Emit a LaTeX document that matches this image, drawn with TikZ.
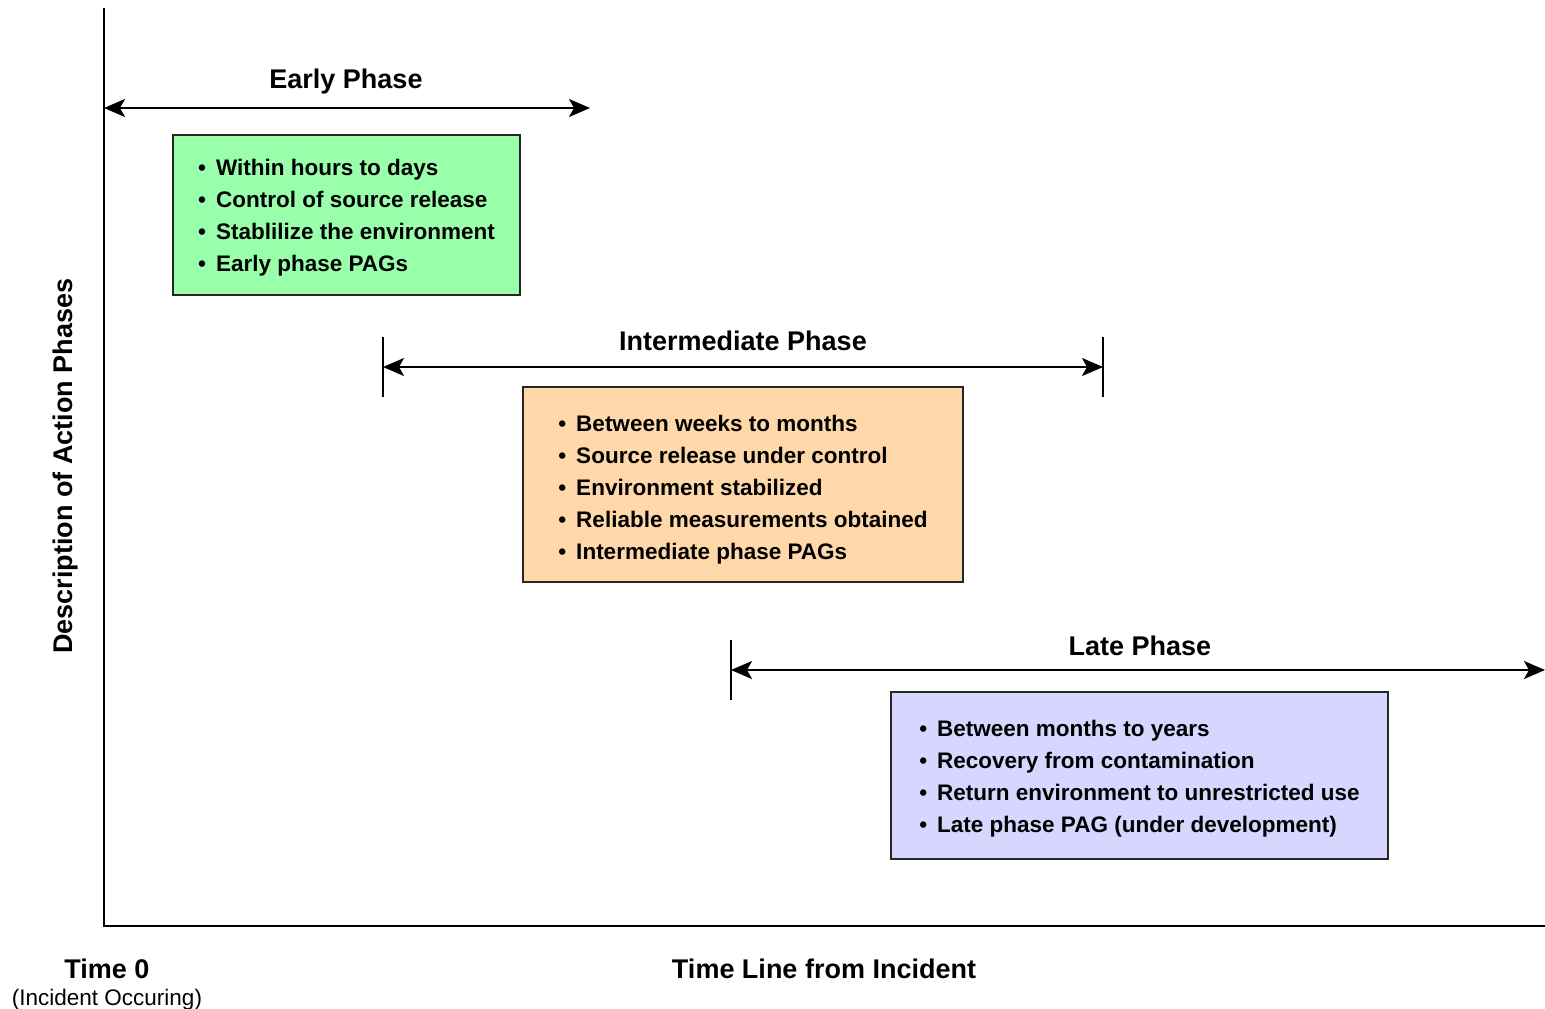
\documentclass[tikz,border=0pt]{standalone}
\usepackage{fontspec}
\setmainfont{Liberation Sans}
\usetikzlibrary{arrows.meta}
\definecolor{boxgreen}{RGB}{153,255,170}
\definecolor{boxorange}{RGB}{255,216,170}
\definecolor{boxblue}{RGB}{214,214,255}
\begin{document}
\begin{tikzpicture}[x=1pt,y=-1pt,
  title/.style={font=\fontsize{27}{32}\selectfont\bfseries, inner sep=0pt},
  phasebox/.style={draw=black!85, line width=2pt, inner sep=0pt},
  listtext/.style={align=left, inner sep=0pt, yshift=-3pt,
    font=\fontsize{22.5}{32}\selectfont\bfseries},
  span/.style={line width=1.8pt, {Stealth[length=21pt,width=18pt,inset=5pt]}-{Stealth[length=21pt,width=18pt,inset=5pt]}},
  tick/.style={line width=1.2pt},
  axis/.style={line width=2.5pt}]
\useasboundingbox (0,0) rectangle (1545,1009);
% axes
\coordinate (ytop) at (104,8);
\coordinate (origin) at (104,926);
\coordinate (xend) at (1545,926);
\draw[axis] (ytop) -- (origin) -- (xend);
% early phase
\coordinate (e1) at (104,108);
\coordinate (e2) at (590,108);
\draw[span] (e1) -- (e2);
\node[title] (etitle) at (346,82) {Early Phase};
\node[phasebox, fill=boxgreen, minimum width=347, minimum height=160] (ebox) at (346.5,215) {};
\node[listtext] (elist) at (ebox.center)
  {•\, Within hours to days\\•\, Control of source release\\•\, Stablilize the environment\\•\, Early phase PAGs};
% intermediate phase
\coordinate (i1t) at (383,337); \coordinate (i1b) at (383,397);
\coordinate (i2t) at (1103,337); \coordinate (i2b) at (1103,397);
\draw[tick] (i1t) -- (i1b);
\draw[tick] (i2t) -- (i2b);
\coordinate (i1) at (383,367); \coordinate (i2) at (1103,367);
\draw[span] (i1) -- (i2);
\node[title] (ititle) at (743,341) {Intermediate Phase};
\node[phasebox, fill=boxorange, minimum width=440, minimum height=195] (ibox) at (743,484.5) {};
\node[listtext, yshift=-2pt] (ilist) at (ibox.center)
  {•\, Between weeks to months\\•\, Source release under control\\•\, Environment stabilized\\•\, Reliable measurements obtained\\•\, Intermediate phase PAGs};
% late phase
\coordinate (l1t) at (731,640); \coordinate (l1b) at (731,700);
\draw[tick] (l1t) -- (l1b);
\coordinate (l1) at (731,670); \coordinate (l2) at (1545,670);
\draw[span] (l1) -- (l2);
\node[title] (ltitle) at (1140,646) {Late Phase};
\node[phasebox, fill=boxblue, minimum width=497, minimum height=167] (lbox) at (1139.5,775.5) {};
\node[listtext] (llist) at (lbox.center)
  {•\, Between months to years\\•\, Recovery from contamination\\•\, Return environment to unrestricted use\\•\, Late phase PAG (under development)};
% axis labels
\node[title, rotate=90] (ylabel) at (66,466) {Description of Action Phases};
\node[title] (xlabel) at (824,969) {Time Line from Incident};
\node[title] (t0) at (107,969) {Time 0};
\node[inner sep=0pt, font=\fontsize{22.5}{26}\selectfont] (t0sub) at (107,1000) {(Incident Occuring)};
\end{tikzpicture}
\end{document}
